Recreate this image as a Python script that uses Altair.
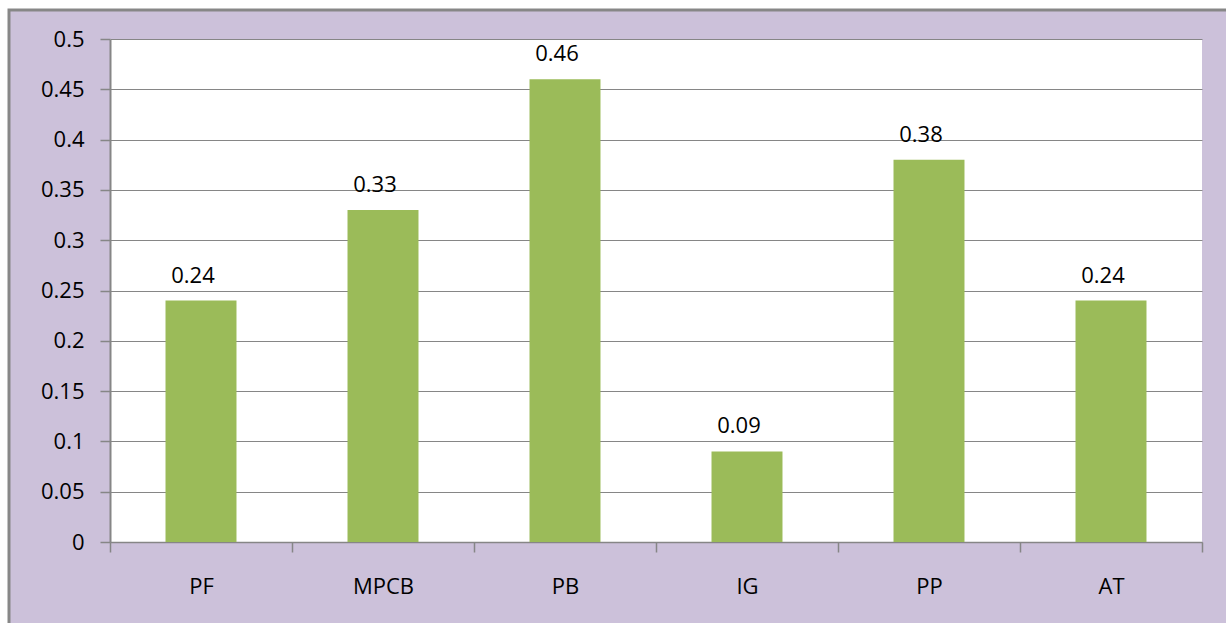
import altair as alt
import pandas as pd

# Category names and their values
categories = ["PF", "MPCB", "PB", "IG", "PP", "AT"]
values = [0.24, 0.33, 0.46, 0.09, 0.38, 0.24]
y_ticks = [0, 0.05, 0.1, 0.15, 0.2, 0.25, 0.3, 0.35, 0.4, 0.45, 0.5]

df = pd.DataFrame({"category": categories, "value": values})

W, H = 1092, 503
FONT = "Open Sans"
GRAY = "#868686"
FS = 22

x_enc = alt.X(
    "category:N",
    sort=categories,
    title=None,
    scale=alt.Scale(paddingInner=0, paddingOuter=0),
    axis=alt.Axis(
        labelAngle=0,
        labelFont=FONT,
        labelFontSize=FS,
        labelColor="#000000",
        labelPadding=34,
        labelBaseline="middle",
        tickBand="extent",
        tickSize=10,
        tickColor=GRAY,
        tickWidth=1.5,
        domainColor=GRAY,
        domainWidth=1.5,
        grid=False,
    ),
)

y_enc = alt.Y(
    "value:Q",
    title=None,
    scale=alt.Scale(domain=[0, 0.5], nice=False, zero=True),
    axis=alt.Axis(
        values=y_ticks,
        format="~g",
        labelFont=FONT,
        labelFontSize=FS,
        labelColor="#000000",
        labelPadding=16,
        tickSize=10,
        tickColor=GRAY,
        tickWidth=1.5,
        domainColor=GRAY,
        domainWidth=2,
        grid=True,
        gridColor=GRAY,
        gridWidth=1,
    ),
)

bars = alt.Chart(df).mark_bar(
    color="#9BBB59", width=alt.RelativeBandSize(0.39)
).encode(x=x_enc, y=y_enc)

labels = alt.Chart(df).mark_text(
    font=FONT, fontSize=FS, color="#000000", baseline="alphabetic", dx=-8, dy=-18
).encode(
    x=alt.X("category:N", sort=categories),
    y="value:Q",
    text=alt.Text("value:Q", format="~g"),
)

# Outer frame: white margin and thin gray border on the top and left edges
frame_data = alt.Data(values=[{"k": 1}])
margin = alt.Chart(frame_data).mark_rect(
    filled=False, stroke="white", strokeWidth=18
).encode(
    x=alt.value(-110), y=alt.value(-39), x2=alt.value(W + 200), y2=alt.value(H + 200)
)
border = alt.Chart(frame_data).mark_rect(
    filled=False, stroke="#878787", strokeWidth=3
).encode(
    x=alt.value(-101), y=alt.value(-29), x2=alt.value(W + 200), y2=alt.value(H + 200)
)

chart = (
    alt.layer(bars, labels, margin, border)
    .properties(
        width=W,
        height=H,
        autosize=alt.AutoSizeParams(type="none"),
        padding={"left": 110, "top": 39, "right": 24, "bottom": 81},
        background="#CCC1DA",
    )
    .configure_view(fill="white", stroke=None)
)

chart.save("out.html", embed_options={"renderer": "svg", "actions": False})
